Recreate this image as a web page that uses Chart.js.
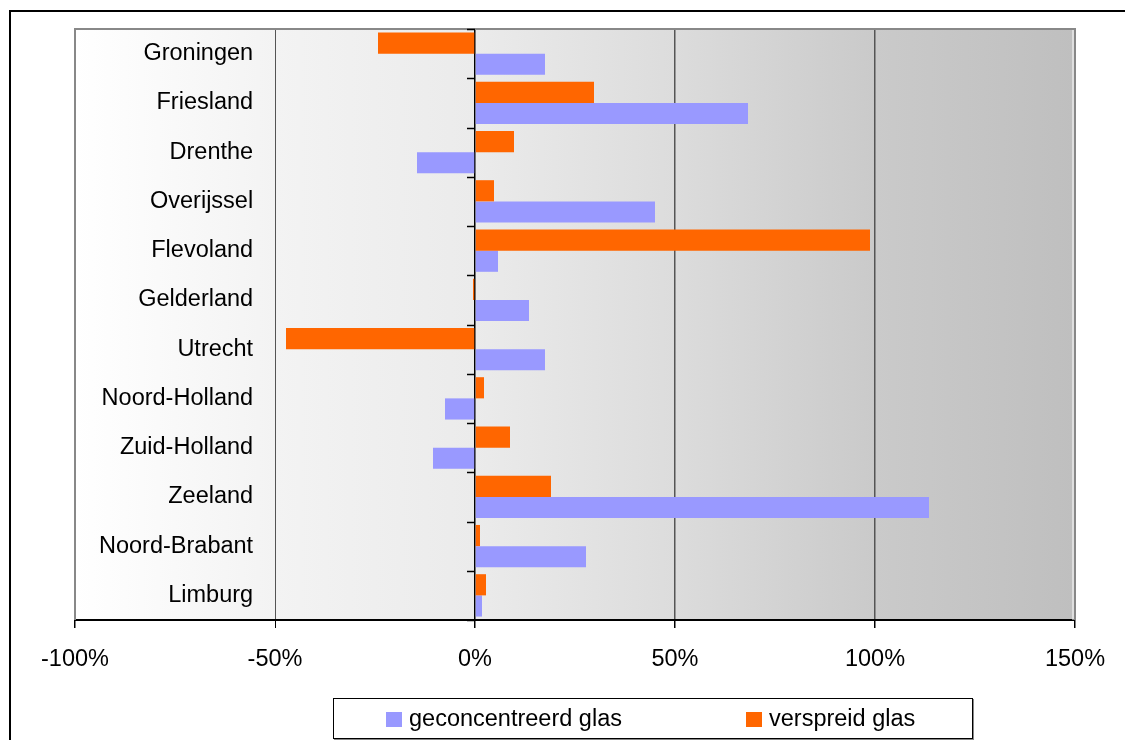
<!DOCTYPE html>
<html>
<head>
<meta charset="utf-8">
<script src="https://cdn.jsdelivr.net/npm/chart.js@4/dist/chart.umd.min.js"></script>
<style>
    html, body { margin: 0; padding: 0; background: #fff; }
    #wrap { position: relative; width: 1125px; height: 740px; overflow: hidden; }
    #legend {
        position: absolute; left: 333px; top: 698px; width: 638px; height: 39px;
        border: 1px solid #000; box-shadow: 1px 1px 0 #888; background: #fff;
        font-family: 'Liberation Sans', Arial, sans-serif; font-size: 23.5px; color: #000;
    }
    .item { position: absolute; top: 6px; line-height: 26px; white-space: nowrap; }
    .swatch { display: inline-block; width: 16px; height: 15px; margin-right: 7px; vertical-align: -1px; }
</style>
</head>
<body>
<div id="wrap">
    <canvas id="chart" width="1125" height="740"></canvas>
    <div id="legend"></div>
</div>
<script>
// Data (percent change per province)
const provinces = ['Groningen', 'Friesland', 'Drenthe', 'Overijssel', 'Flevoland', 'Gelderland',
    'Utrecht', 'Noord-Holland', 'Zuid-Holland', 'Zeeland', 'Noord-Brabant', 'Limburg'];
const geconcentreerd = [17.5, 68.25, -14.5, 45, 5.75, 13.5, 17.5, -7.5, -10.5, 113.5, 27.75, 1.75];
const verspreid = [-24.25, 29.75, 9.75, 4.75, 98.75, -0.5, -47.25, 2.25, 8.75, 19, 1.25, 2.75];
const xTicks = [-100, -50, 0, 50, 100, 150];

const BLUE = '#9999ff';
const ORANGE = '#ff6600';

Chart.defaults.font.family = "'Liberation Sans', Arial, sans-serif";
Chart.defaults.font.size = 23.5;
Chart.defaults.color = '#000';

// background gradient, frame, outer border and category ticks at 0%
const decorations = {
    id: 'decorations',
    beforeDraw(chart) {
        const { ctx, chartArea: a } = chart;
        ctx.save();
        const g = ctx.createLinearGradient(a.left, 0, a.right, 0);
        g.addColorStop(0, '#ffffff');
        g.addColorStop(0.2, '#f3f3f3');
        g.addColorStop(0.4, '#ebebeb');
        g.addColorStop(0.6, '#dcdcdc');
        g.addColorStop(0.8, '#cacaca');
        g.addColorStop(1, '#bfbfbf');
        ctx.fillStyle = g;
        ctx.fillRect(a.left, a.top, a.right - a.left, a.bottom - a.top);
        ctx.restore();
    },
    afterDraw(chart) {
        const { ctx, chartArea: a } = chart;
        const x = chart.scales.x, y = chart.scales.y;
        ctx.save();
        // plot frame
        ctx.strokeStyle = '#888';
        ctx.lineWidth = 2;
        ctx.beginPath();
        ctx.moveTo(a.left, a.bottom);
        ctx.lineTo(a.left, a.top);
        ctx.lineTo(a.right, a.top);
        ctx.lineTo(a.right, a.bottom);
        ctx.stroke();
        ctx.strokeStyle = '#fff';
        ctx.lineWidth = 1;
        ctx.beginPath();
        ctx.moveTo(a.right - 2, a.top + 1);
        ctx.lineTo(a.right - 2, a.bottom);
        ctx.stroke();
        // category ticks on the 0% line
        const x0 = x.getPixelForValue(0);
        ctx.strokeStyle = '#000';
        ctx.lineWidth = 1.5;
        for (let i = 0; i <= provinces.length; i++) {
            const yy = Math.round(y.getPixelForValue(i - 0.5)) + 0.5;
            ctx.beginPath();
            ctx.moveTo(x0 - 8, yy);
            ctx.lineTo(x0, yy);
            ctx.stroke();
        }
        // outer border
        ctx.strokeStyle = '#000';
        ctx.lineWidth = 2;
        ctx.beginPath();
        ctx.moveTo(10, 760);
        ctx.lineTo(10, 11);
        ctx.lineTo(1140, 11);
        ctx.stroke();
        ctx.restore();
    }
};

new Chart(document.getElementById('chart'), {
    type: 'bar',
    data: {
        labels: provinces,
        datasets: [
            { label: 'verspreid glas', data: verspreid, backgroundColor: ORANGE },
            { label: 'geconcentreerd glas', data: geconcentreerd, backgroundColor: BLUE }
        ]
    },
    options: {
        indexAxis: 'y',
        responsive: false,
        animation: false,
        categoryPercentage: 0.86,
        barPercentage: 1,
        layout: { padding: { left: 75, top: 29, right: 50, bottom: 0 } },
        plugins: { legend: { display: false }, tooltip: { enabled: false } },
        scales: {
            x: {
                min: -100,
                max: 150,
                afterBuildTicks: s => { s.ticks = xTicks.map(v => ({ value: v })); },
                afterFit: s => { s.height = 120; },
                ticks: { padding: 17, callback: v => v + '%' },
                grid: {
                    color: c => {
                        const v = c.tick && c.tick.value;
                        if (v === 0) return '#000';
                        if (v === -100 || v === 150) return 'rgba(0,0,0,0)';
                        return '#555';
                    },
                    lineWidth: c => (c.tick && c.tick.value === -50 ? 1 : 1.5),
                    tickColor: '#000',
                    tickLength: 8
                },
                border: { display: true, color: '#000', width: 2 }
            },
            y: {
                afterFit: s => { s.width = 0; s.paddingTop = 0; s.paddingBottom = 0; },
                ticks: { mirror: true, crossAlign: 'far', padding: 24 },
                grid: { display: false, drawTicks: false },
                border: { display: false }
            }
        }
    },
    plugins: [decorations]
});

// legend box (blue listed first, as in the reference)
const legendItems = [
    { text: 'geconcentreerd glas', color: BLUE, left: 52 },
    { text: 'verspreid glas', color: ORANGE, left: 412 }
];
document.getElementById('legend').innerHTML = legendItems.map(it =>
    `<span class="item" style="left:${it.left}px"><span class="swatch" style="background:${it.color}"></span>${it.text}</span>`
).join('');
</script>
</body>
</html>
